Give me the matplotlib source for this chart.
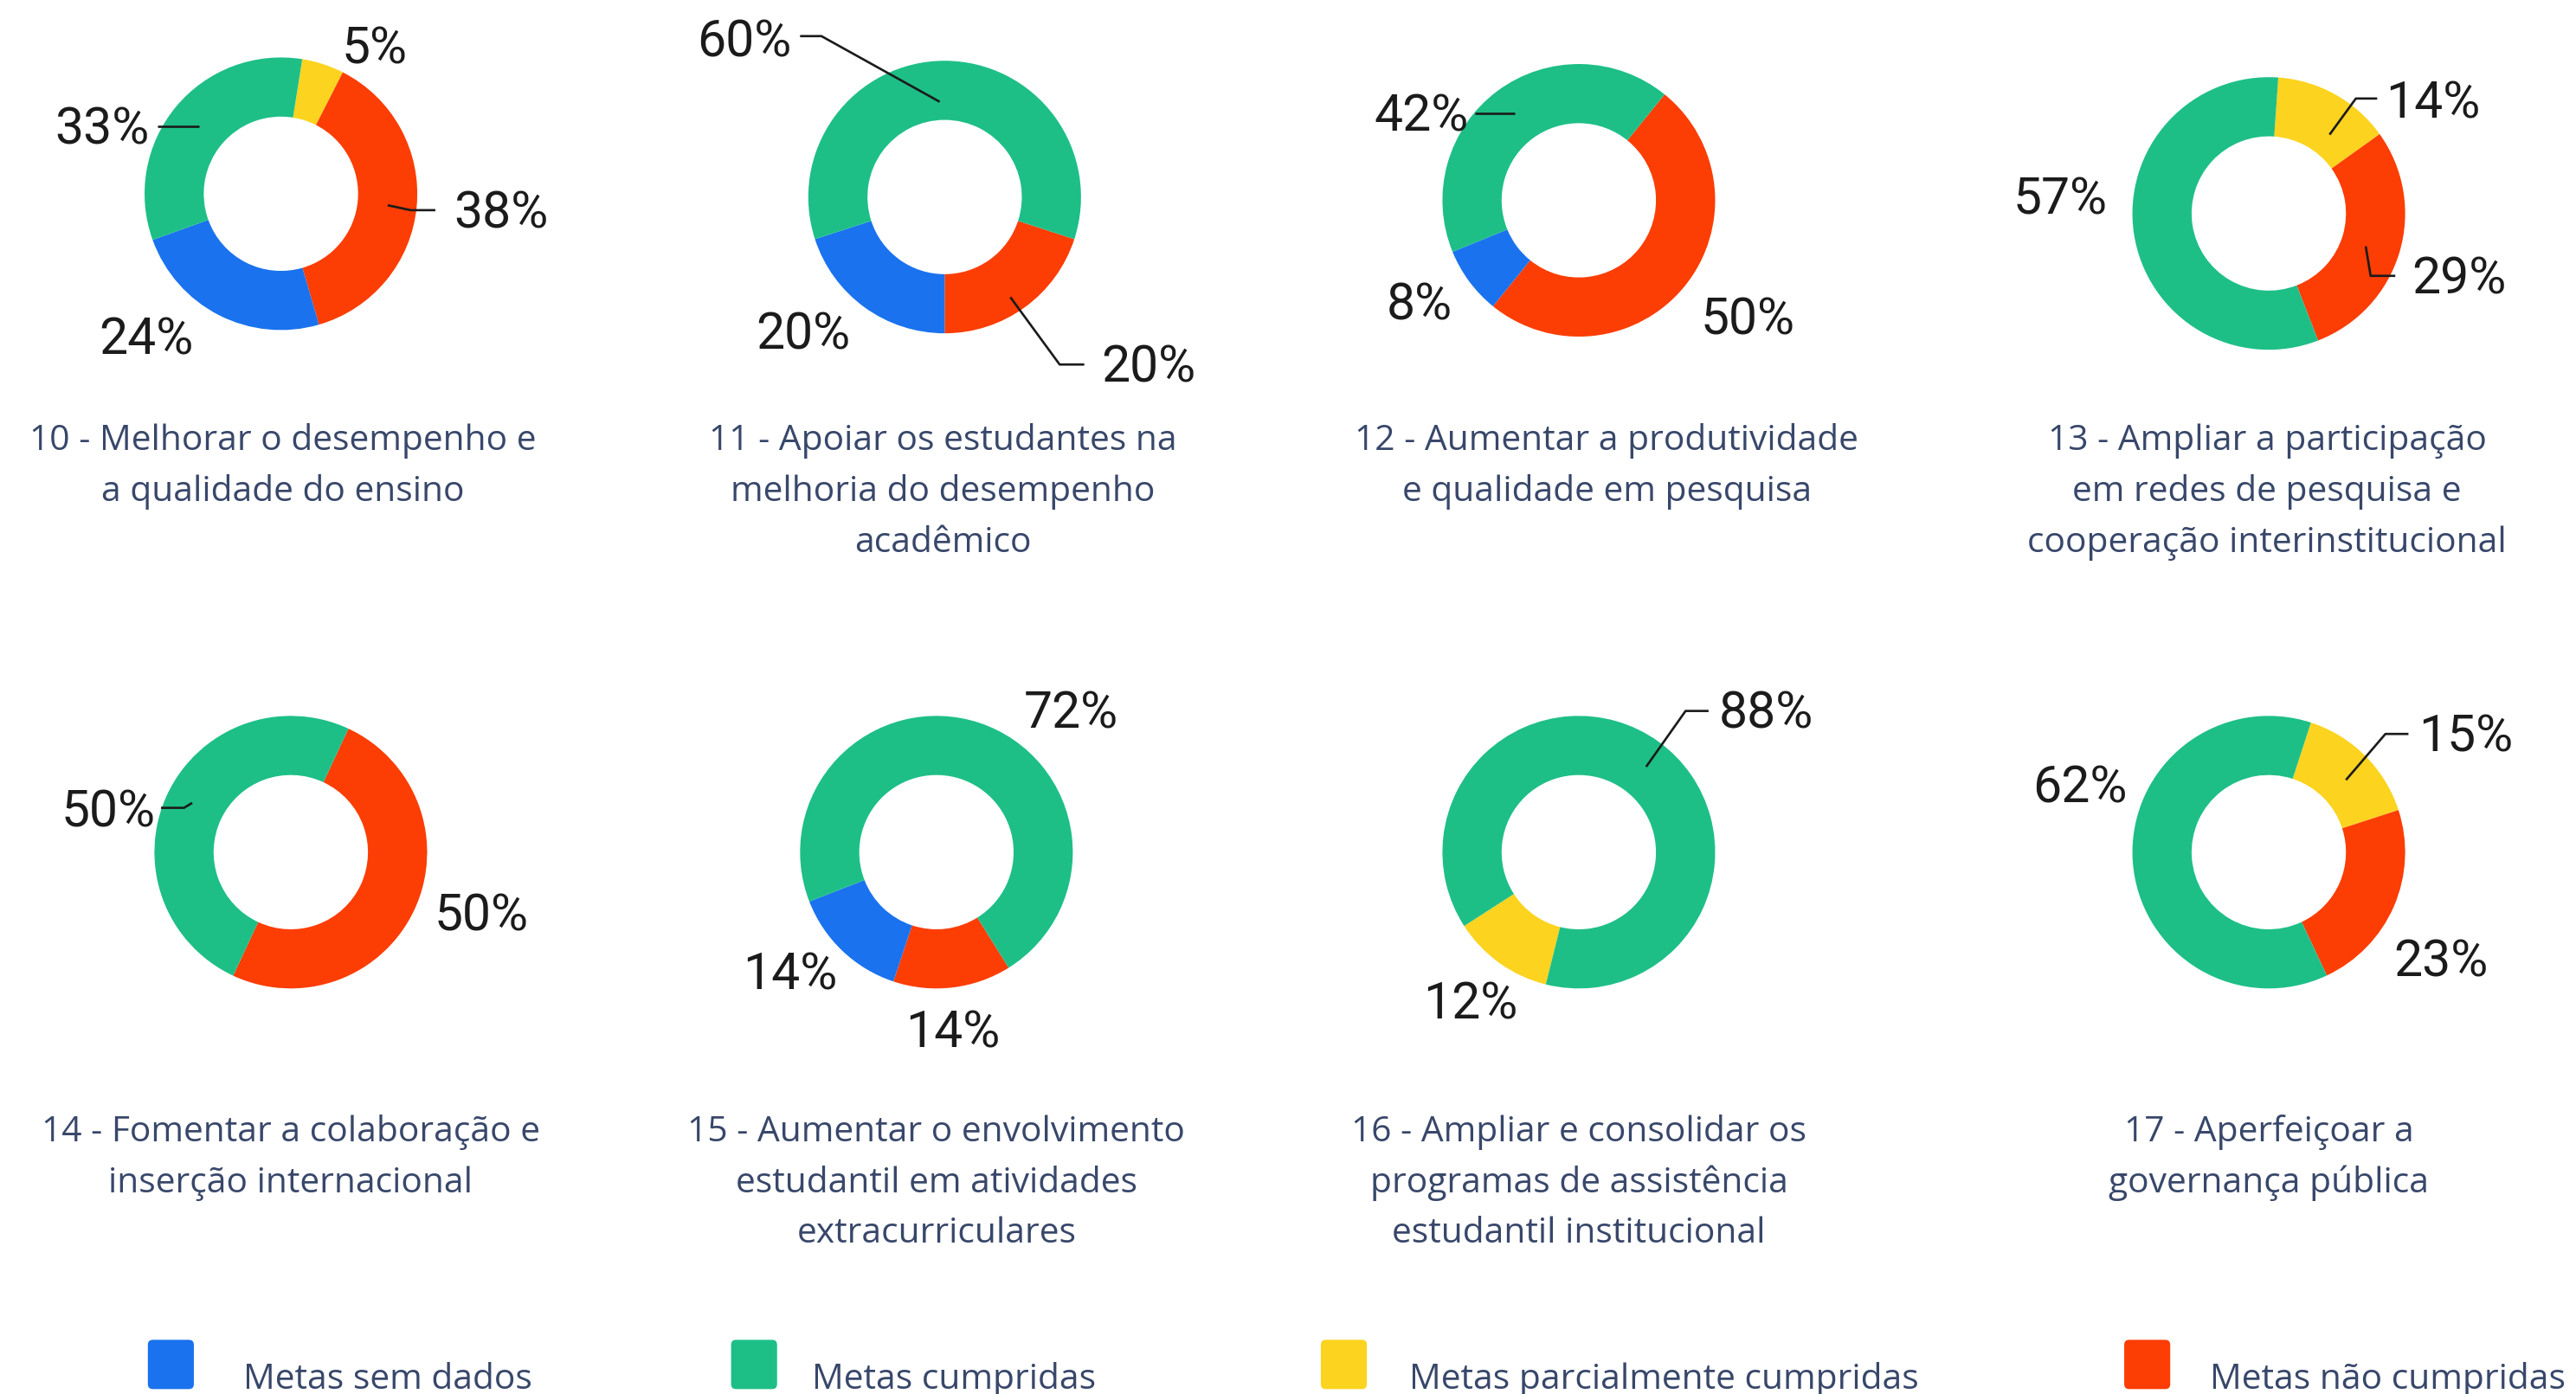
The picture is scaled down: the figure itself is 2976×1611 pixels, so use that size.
import matplotlib

matplotlib.use("Agg")
import matplotlib.pyplot as plt
from matplotlib.patches import FancyBboxPatch

# layout works in the units of the shrunk reference (1568 x 849), y measured from top
W, H = 1568, 849
S = 2976 / 1568
PT = S * 72 / 100  # one layout unit in points

titles = [
    "10 - Melhorar o desempenho e\na qualidade do ensino",
    "11 - Apoiar os estudantes na\nmelhoria do desempenho\nacadêmico",
    "12 - Aumentar a produtividade\ne qualidade em pesquisa",
    "13 - Ampliar a participação\nem redes de pesquisa e\ncooperação interinstitucional",
    "14 - Fomentar a colaboração e\ninserção internacional",
    "15 - Aumentar o envolvimento\nestudantil em atividades\nextracurriculares",
    "16 - Ampliar e consolidar os\nprogramas de assistência\nestudantil institucional",
    "17 - Aperfeiçoar a\ngovernança pública",
]
sem_dados = [24, 20, 8, 0, 0, 14, 0, 0]
cumpridas = [33, 60, 42, 57, 50, 72, 88, 62]
parcialmente = [5, 0, 0, 14, 0, 0, 12, 15]
nao_cumpridas = [38, 20, 50, 29, 50, 14, 0, 23]

legend_labels = ["Metas sem dados", "Metas cumpridas",
                 "Metas parcialmente cumpridas", "Metas não cumpridas"]
colors = {"blue": "#1a72ee", "green": "#1dbf87", "yellow": "#fcd31e", "red": "#fc3d04"}

# --- layout -------------------------------------------------------------
centers = [(171, 118), (575, 120), (961, 122), (1381, 130),
           (177, 519), (570, 519), (961, 519), (1381, 519)]
start_cw = [9, 108, 39, 4, 25, 148, 194, 18]  # degrees clockwise from 12 o'clock
R_OUT, HOLE = 83, 0.566
title_x = [172, 574, 978, 1380, 177, 570, 961, 1381]
title_y = [268, 268, 268, 268, 689, 689, 689, 689]
LINE_H = 31

label_pos = [
    {"yellow": (228, 30), "green": (62, 79), "red": (305, 130), "blue": (89, 207)},
    {"green": (453, 26), "blue": (489, 204), "red": (699, 224)},
    {"green": (865, 71), "blue": (864, 186), "red": (1064, 195)},
    {"yellow": (1481, 63), "green": (1254, 122), "red": (1497, 170)},
    {"green": (66, 495), "red": (293, 558)},
    {"green": (652, 435), "blue": (481, 594), "red": (580, 629)},
    {"green": (1075, 435), "yellow": (895, 612)},
    {"yellow": (1501, 449), "green": (1266, 480), "red": (1486, 586)},
]
leaders = [
    {"green": [(96, 77), (121, 77)], "red": [(236, 125), (250, 128), (265, 128)]},
    {"green": [(487, 22), (500, 22), (572, 62)], "red": [(615, 181), (645, 222), (660, 222)]},
    {"green": [(898, 69), (922, 69)]},
    {"yellow": [(1447, 60), (1434, 60), (1418, 82)], "red": [(1440, 150), (1443, 168), (1458, 168)]},
    {"green": [(98, 492), (112, 492), (117, 489)]},
    {},
    {"green": [(1040, 433), (1026, 433), (1002, 467)]},
    {"yellow": [(1466, 447), (1452, 447), (1428, 475)]},
]
legend_box_x = [90, 445, 804, 1293]
legend_text_x = [148, 494, 858, 1345]

TEXT_COLOR = "#38476a"
title_font = "Open Sans"
pct_font = "Roboto"


def Y(y):
    return H - y


fig = plt.figure(figsize=(29.76, 16.11), dpi=100)
ax = fig.add_axes([0, 0, 1, 1])

for i, (cx, cy) in enumerate(centers):
    series = {"yellow": parcialmente[i], "red": nao_cumpridas[i],
              "blue": sem_dados[i], "green": cumpridas[i]}
    keys = [k for k, v in series.items() if v > 0]
    ax.pie([series[k] for k in keys], colors=[colors[k] for k in keys],
           startangle=90 - start_cw[i], counterclock=False,
           radius=R_OUT, center=(cx, Y(cy)),
           wedgeprops=dict(width=R_OUT * (1 - HOLE), linewidth=0))

    for k, (lx, ly) in label_pos[i].items():
        ax.text(lx, Y(ly), f"{series[k]}%", ha="center", va="center",
                fontsize=31 * PT, family=pct_font, color="#1b1b1b")
    for k, pts in leaders[i].items():
        ax.plot([p[0] for p in pts], [Y(p[1]) for p in pts],
                color="#1b1b1b", lw=1.4 * PT, solid_capstyle="butt")

    for j, line in enumerate(titles[i].split("\n")):
        ax.text(title_x[i], Y(title_y[i] + j * LINE_H + 6), line,
                ha="center", va="baseline", fontsize=21.5 * PT,
                family=title_font, color=TEXT_COLOR)

# legend along the bottom edge
for bx, tx, key, lab in zip(legend_box_x, legend_text_x,
                            ["blue", "green", "yellow", "red"], legend_labels):
    ax.add_patch(FancyBboxPatch((bx + 3, Y(846) + 3), 22, 24,
                                boxstyle="round,pad=3", fc=colors[key], ec="none"))
    ax.text(tx, Y(846), lab, ha="left", va="baseline", fontsize=21.5 * PT,
            family=title_font, color=TEXT_COLOR)

ax.set_xlim(0, W)
ax.set_ylim(0, H)
ax.set_aspect("auto")
ax.axis("off")

fig.savefig("out.png", dpi=100, facecolor="white")
